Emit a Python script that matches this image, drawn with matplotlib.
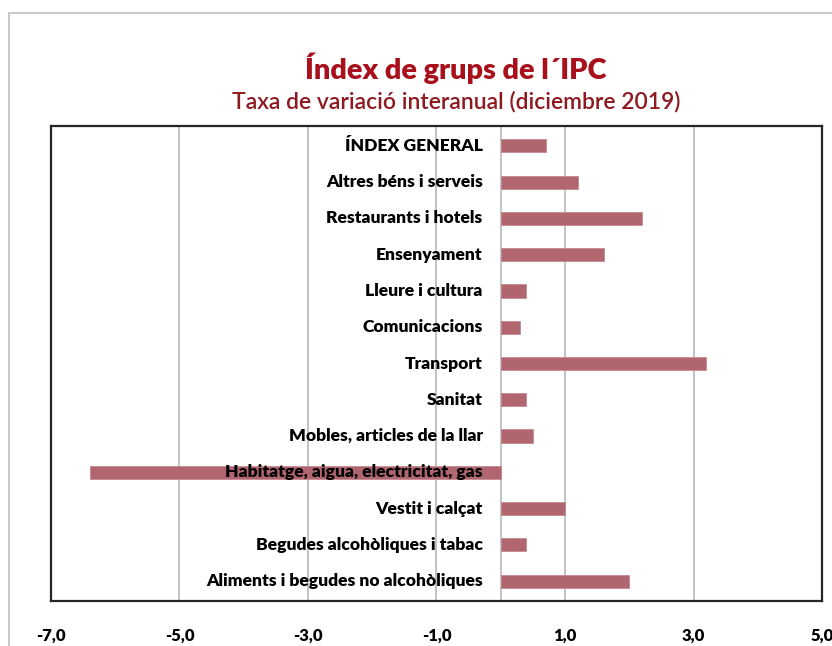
import matplotlib
matplotlib.use("Agg")
import matplotlib.pyplot as plt
from matplotlib.patches import Rectangle
import matplotlib.transforms as mtransforms

categories = [
    "Aliments i begudes no alcohòliques",
    "Begudes alcohòliques i tabac",
    "Vestit i calçat",
    "Habitatge, aigua, electricitat, gas",
    "Mobles, articles de la llar",
    "Sanitat",
    "Transport",
    "Comunicacions",
    "Lleure i cultura",
    "Ensenyament",
    "Restaurants i hotels",
    "Altres béns i serveis",
    "ÍNDEX GENERAL",
]
values = [2.0, 0.4, 1.0, -6.4, 0.5, 0.4, 3.2, 0.3, 0.4, 1.6, 2.2, 1.2, 0.7]
xticks = [-7, -5, -3, -1, 1, 3, 5]
xtick_labels = ["-7,0", "-5,0", "-3,0", "-1,0", "1,0", "3,0", "5,0"]
title = "Índex de grups de l´IPC"
subtitle = "Taxa de variació interanual (diciembre 2019)"

FONT = ["Lato", "DejaVu Sans"]
plt.rcParams["font.family"] = FONT

W, H = 832, 646
fig = plt.figure(figsize=(W / 100, H / 100), dpi=100)

# outer chart-area border (gray)
fig.patches.append(Rectangle((9 / W, -0.1), 1.2, (H - 13) / H + 0.1,
                             transform=fig.transFigure, fill=False,
                             edgecolor="#bfbfbf", linewidth=1.2))

ax = fig.add_axes([51 / W, 1 - 601 / H, (822 - 51) / W, (601 - 126) / H])
y = list(range(len(categories)))
ax.barh(y, values, height=0.36, color="#b0656f", edgecolor="#c48a92",
        linewidth=0.6, zorder=3)
ax.set_xlim(-7, 5)
ax.set_ylim(-0.55, len(categories) - 0.45)
ax.set_xticks(xticks)
ax.set_xticklabels(xtick_labels, fontsize=12, fontweight="heavy", family=FONT)
ax.tick_params(axis="x", length=0, pad=19)
ax.set_yticks([])
for xv in xticks[1:-1]:
    ax.axvline(xv, color="#bdbdbd", linewidth=1.3, zorder=1)
ax.axvline(0, color="#bdbdbd", linewidth=1.3, zorder=2)
for s in ax.spines.values():
    s.set_color("#262626")
    s.set_linewidth(1.6)

off = mtransforms.offset_copy(ax.transData, fig=fig, x=-18, y=0, units="dots")
for yi, lab in zip(y, categories):
    ax.text(0, yi, lab, transform=off, ha="right", va="center",
            fontsize=12.6, fontweight="heavy", color="black", zorder=4,
            family=FONT)

fig.text(456 / W, 1 - 68 / H, title, ha="center", va="center",
         fontsize=20.8, fontweight="heavy", color="#a8101c", family=FONT)
fig.text(456 / W, 1 - 102 / H, subtitle, ha="center", va="center",
         fontsize=16.5, fontweight="semibold", color="#8e1a20", family=FONT)

fig.savefig("out.png", dpi=100)
